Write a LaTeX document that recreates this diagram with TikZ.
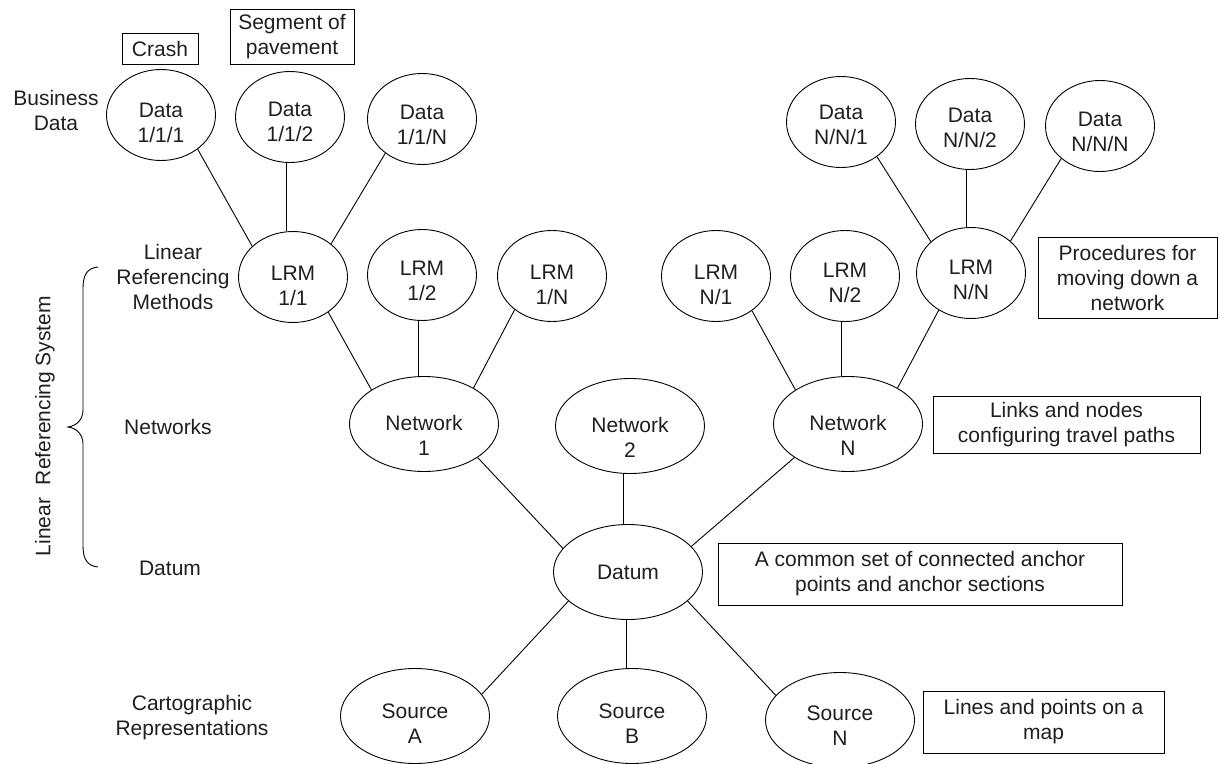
\documentclass[tikz,border=0pt]{standalone}
\usepackage{fontspec}
\setmainfont{Liberation Sans}
\usetikzlibrary{shapes.geometric}
\tikzset{
  small ell/.style={ellipse, draw, line width=0.9bp, minimum width=109bp, minimum height=91bp, inner sep=0pt},
  wide ell/.style={ellipse, draw, line width=0.9bp, minimum width=149bp, minimum height=95bp, inner sep=0pt},
  oval text/.style={align=center, inner sep=0pt},
  notebox/.style={draw, line width=0.9bp, inner sep=0pt, align=center},
  lvl/.style={align=center, inner sep=0pt},
  link/.style={line width=0.9bp},
}
% #1 style, #2 name, #3 position, #4 text, #5 downward offset of the text (bp)
\newcommand\ovalnode[5]{%
  \node[#1, label={[oval text, yshift=-#5bp]center:#4}] (#2) at (#3) {};}
\begin{document}
\begin{tikzpicture}[x=1bp, y=-1bp, font=\fontsize{21bp}{25bp}\selectfont, text=black!88]
\useasboundingbox (0,0) rectangle (1220,764);

% level captions
\node[lvl] (capbd) at (56,110) {Business\\Data};
\node[lvl] (caplrm) at (173,277) {Linear\\Referencing\\Methods};
\node[lvl] (capnet) at (168,427) {Networks};
\node[lvl] (capdat) at (170,568) {Datum};
\node[lvl] (capcart) at (192,718) {Cartographic\\Representations};

% brace grouping the referencing levels
\coordinate (bt) at (98,267);
\coordinate (bb) at (98,567);
\draw[line width=0.9bp] (bt) .. controls (88,268) and (83,274) .. (83,288)
  -- (83,410) .. controls (83,420) and (76,426) .. (68,427)
  .. controls (76,428) and (83,434) .. (83,444)
  -- (83,546) .. controls (83,560) and (88,566) .. (bb);
\node[lvl, rotate=90] (lrs) at (45,426) {Linear\hspace{0.6em}Referencing System};

% business data
\ovalnode{small ell}{d111}{161,115}{Data\\1/1/1}{7.5}
\ovalnode{small ell}{d112}{290,117}{Data\\1/1/2}{4.5}
\ovalnode{small ell}{d11n}{422,119}{Data\\1/1/N}{6}
\ovalnode{small ell}{dnn1}{841,122}{Data\\N/N/1}{3}
\ovalnode{small ell}{dnn2}{970,124}{Data\\N/N/2}{3.5}
\ovalnode{small ell}{dnnn}{1100,126}{Data\\N/N/N}{5.5}

% linear referencing methods
\ovalnode{small ell}{l11}{293,277}{LRM\\1/1}{9}
\ovalnode{small ell}{l12}{422,275}{LRM\\1/2}{6}
\ovalnode{small ell}{l1n}{552,276}{LRM\\1/N}{8.5}
\ovalnode{small ell}{ln1}{716,276}{LRM\\N/1}{8.5}
\ovalnode{small ell}{ln2}{845,276}{LRM\\N/2}{6.5}
\ovalnode{small ell}{lnn}{971,273}{LRM\\N/N}{6.5}

% networks, datum, sources
\ovalnode{wide ell}{n1}{424,424}{Network\\1}{11.5}
\ovalnode{wide ell}{n2}{630,426}{Network\\2}{11.5}
\ovalnode{wide ell}{nn}{848,424}{Network\\N}{11.5}
\ovalnode{wide ell}{dat}{628,572}{Datum}{0}
\ovalnode{wide ell}{sa}{415,716}{Source\\A}{7.5}
\ovalnode{wide ell}{sb}{632,716}{Source\\B}{8}
\ovalnode{wide ell}{sn}{840,720}{Source\\N}{5.5}

% note boxes
\node[notebox, minimum width=76bp, minimum height=31bp] (crash) at (160,48.5) {Crash};
\node[notebox, minimum width=124bp, minimum height=55bp] (seg) at (292,36.5) {Segment of\\pavement};
\node[notebox, minimum width=179bp, minimum height=81bp] (proc) at (1127.5,277.5) {Procedures for\\moving down a\\network};
\node[notebox, minimum width=267bp, minimum height=57bp] (links) at (1066.5,424.5) {Links and nodes\\configuring travel paths};
\node[notebox, minimum width=404bp, minimum height=62bp] (common) at (920,574) {A common set of connected anchor\\points and anchor sections};
\node[notebox, minimum width=241bp, minimum height=62bp] (lines) at (1043.5,722) {Lines and points on a\\map};

% data to LRM
\draw[link] (d111.-43) -- (l11.143);
\draw[link] (d112.-95) -- (d112.-95 |- l11.north);
\draw[link] (d11n.-137) -- (l11.41);
\draw[link] (dnn1.-44) -- (lnn.142);
\draw[link] (dnn2.-95) -- (dnn2.-95 |- lnn.north);
\draw[link] (dnnn.-140) -- (lnn.39);

% LRM to networks
\draw[link] (l11.-45) -- (n1.147);
\draw[link] (l12.-95) -- (l12.-95 |- n1.north);
\draw[link] (l1n.-138) -- (n1.36);
\draw[link] (ln1.-44) -- (nn.147);
\draw[link] (ln2.-94) -- (ln2.-94 |- nn.north);
\draw[link] (lnn.-131) -- (nn.36);

% networks to datum
\draw[link] (n1.-32) -- (dat.160);
\draw[link] (n2.-98) -- (n2.-98 |- dat.north);
\draw[link] (nn.-148) -- (dat.22);

% datum to sources
\draw[link] (dat.-154) -- (sa.18);
\draw[link] (dat.-92) -- (dat.-92 |- sb.north);
\draw[link] (dat.-26) -- (sn.159);
\end{tikzpicture}
\end{document}
